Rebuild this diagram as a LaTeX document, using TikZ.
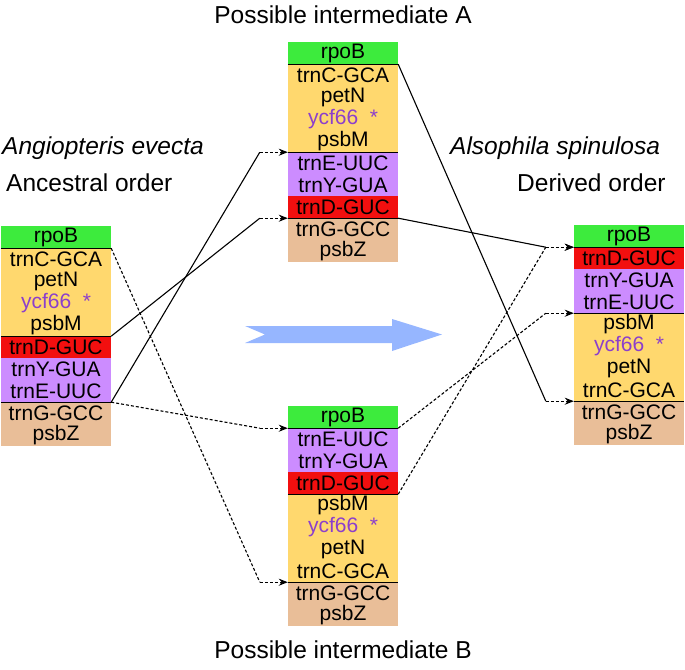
\documentclass[tikz,border=0pt]{standalone}
\usepackage{fontspec}
\setmainfont{Liberation Sans}
\usetikzlibrary{arrows.meta, calc}
\definecolor{cGrn}{HTML}{3DEB3D}
\definecolor{cYel}{HTML}{FFD86E}
\definecolor{cRed}{HTML}{F20F0F}
\definecolor{cPur}{HTML}{CC8CFF}
\definecolor{cTan}{HTML}{E9BE98}
\definecolor{cYcf}{HTML}{8C3FCC}
\definecolor{cArr}{HTML}{96B6FF}
\newcommand{\ycf}{{\color{cYcf}ycf66\hspace{0.55em}*}}
\tikzset{
  gene/.style={rectangle, inner sep=0pt, minimum width=110pt, minimum height=22pt,
               font=\fontsize{21}{22}\selectfont, text=black},
  gG/.style={gene, fill=cGrn},
  gY/.style={gene, fill=cYel},
  gR/.style={gene, fill=cRed},
  gP/.style={gene, fill=cPur},
  gT/.style={gene, fill=cTan},
  cut/.style={line width=1pt, draw=black},
  link/.style={line width=1.1pt, draw=black},
  dlink/.style={link, dash pattern=on 3pt off 2pt},
  lead/.style={dlink, -{Stealth[length=9pt, width=7pt]}},
  lab/.style={font=\fontsize{24.5}{28}\selectfont, inner sep=0pt},
}

\begin{document}
\begin{tikzpicture}[x=1pt, y=-1pt]
  \useasboundingbox (0,0) rectangle (685,669);

  % ---- gene orders, one node per gene
  \foreach \t/\s [count=\i] in {rpoB/gG, trnC-GCA/gY, petN/gY, \ycf/gY, psbM/gY,
                                trnD-GUC/gR, trnY-GUA/gP, trnE-UUC/gP, trnG-GCC/gT, psbZ/gT}
    \node[\s] (L\i) at (56, 215+22*\i) {\t};
  \foreach \t/\s [count=\i] in {rpoB/gG, trnC-GCA/gY, petN/gY, \ycf/gY, psbM/gY,
                                trnE-UUC/gP, trnY-GUA/gP, trnD-GUC/gR, trnG-GCC/gT, psbZ/gT}
    \node[\s] (A\i) at (343, 31+22*\i) {\t};
  \foreach \t/\s [count=\i] in {rpoB/gG, trnE-UUC/gP, trnY-GUA/gP, trnD-GUC/gR, psbM/gY,
                                \ycf/gY, petN/gY, trnC-GCA/gY, trnG-GCC/gT, psbZ/gT}
    \node[\s] (B\i) at (343, 395+22*\i) {\t};
  \foreach \t/\s [count=\i] in {rpoB/gG, trnD-GUC/gR, trnY-GUA/gP, trnE-UUC/gP, psbM/gY,
                                \ycf/gY, petN/gY, trnC-GCA/gY, trnG-GCC/gT, psbZ/gT}
    \node[\s] (R\i) at (629, 214+22*\i) {\t};

  % ---- breakpoints
  \foreach \n in {L1,L5,L8,A1,A5,A8,B1,B4,B8,R1,R4,R8}
    \draw[cut] (\n.south west) -- (\n.south east);

  % ---- rearrangements
  \foreach \a/\b/\k in {L5/A8/link, L8/A5/link, L1/B8/dlink, L8/B1/dlink,
                        A1/R8/link, A8/R1/link, B1/R4/dlink, B4/R1/dlink} {
    \coordinate (k\b) at ([xshift=-28pt]\b.south west);
    \draw[\k] (\a.south east) -- (k\b);
    \draw[lead] (k\b) -- (\b.south west);
  }

  % ---- titles
  \node[lab] (tA) at (343,15) {Possible intermediate A};
  \node[lab] (tB) at (343,650) {Possible intermediate B};
  \node[lab, anchor=west] (spL) at (2,148) {\itshape Angiopteris evecta};
  \node[lab, anchor=west] (ordL) at (6,183) {Ancestral order};
  \node[lab, anchor=west] (spR) at (450,148) {\itshape Alsophila spinulosa};
  \node[lab, anchor=west] (ordR) at (517,183) {Derived order};

  % ---- direction of change
  \fill[cArr] (245,326) -- (392,326) -- (392,319) -- (442,334.5) -- (392,351)
              -- (392,343) -- (245,343) -- (265,334.5) -- cycle;
\end{tikzpicture}
\end{document}
